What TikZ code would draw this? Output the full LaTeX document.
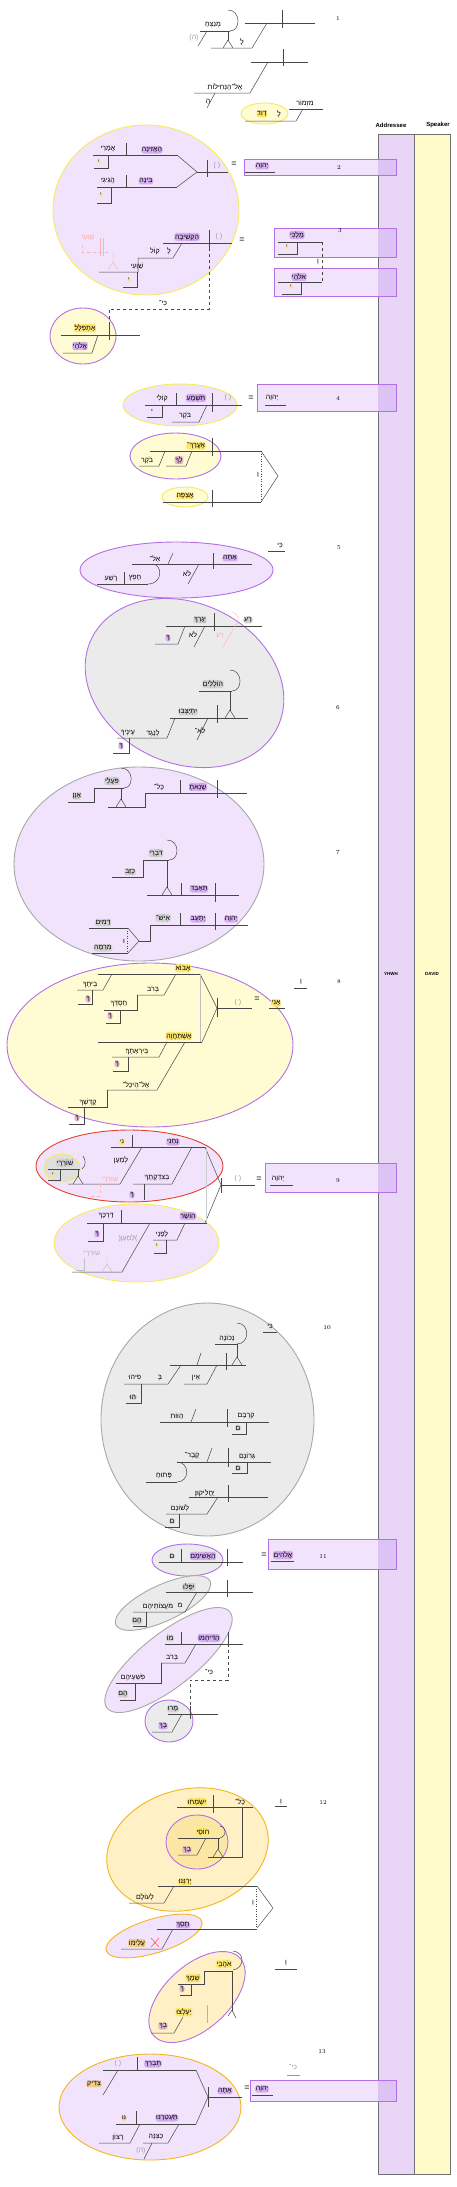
\documentclass[tikz,border=0pt]{standalone}
\usepackage{fontspec}
\newfontfamily\heb[Script=Hebrew]{Liberation Sans}
\newfontfamily\lab{Liberation Sans}
\TeXXeTstate=1
\definecolor{pF}{HTML}{F1E3FC}
\definecolor{pB}{HTML}{B36FE6}
\definecolor{yB}{HTML}{F7EB5C}
\definecolor{yF}{HTML}{FFFBD2}
\definecolor{oB}{HTML}{F5B51A}
\definecolor{oF}{HTML}{FFF0C6}
\definecolor{gF}{HTML}{EBEBEB}
\definecolor{gB}{HTML}{A8A8A8}
\definecolor{rB}{HTML}{E8402A}
\definecolor{colA}{HTML}{E9D6F6}
\definecolor{colS}{HTML}{FFFBC9}
\definecolor{colB}{HTML}{707070}
\definecolor{hlP}{HTML}{D6AEF2}
\definecolor{hlY}{HTML}{FFE66E}
\definecolor{hlG}{HTML}{D2D2D2}
\definecolor{hlK}{HTML}{E4B8CF}
\definecolor{hlO}{HTML}{F2CF86}
\definecolor{ovl}{HTML}{DDC3F5}
\definecolor{inY}{HTML}{FCE6A4}
\newcounter{hc}
\newcommand\W[4][]{\stepcounter{hc}\node[w,#1] (w\arabic{hc}) at (#2,#3) {\beginR #4\endR};}
\newcommand\G[4][]{\stepcounter{hc}\node[w,#1] (w\arabic{hc}) at (#2,#3) {#4};}
\newcommand\bx[4]{\fill[pF] (#1,#2) rectangle (#3,#4); \fill[ovl] (378,#2) rectangle (#3,#4); \draw[draw=pB,line width=0.9pt] (#1,#2) rectangle (#3,#4);}
\newcommand\tri[2]{\draw[L] (#1-5,#2)--(#1,#2-8)--(#1+5,#2);}
\tikzset{
 L/.style={draw=black!72, line width=0.5pt},
 w/.style={font=\heb\fontsize{7}{8}\selectfont, inner sep=0.7pt},
 hp/.style={fill=hlP, rounded corners=2.5pt},
 hy/.style={fill=hlY, rounded corners=2.5pt},
 hg/.style={fill=hlG, rounded corners=2.5pt},
 hk/.style={fill=hlK, rounded corners=2.5pt},
 ho/.style={fill=hlO, rounded corners=2.5pt},
 gr/.style={text=black!40},
 pk/.style={text=red!35},
 pkL/.style={draw=red!30, line width=0.4pt},
 num/.style={font=\fontsize{6}{7}\selectfont, inner sep=0.5pt},
 eq/.style={font=\lab\fontsize{9}{9}\selectfont, inner sep=0pt},
 ell/.style={line width=0.9pt},
 dotc/.style={circle, fill=hlY, inner sep=0pt, font=\heb\fontsize{6}{6}\selectfont},
 par/.style={font=\lab\fontsize{7}{8}\selectfont, text=black!40, inner sep=0.7pt}
}
\begin{document}
\begin{tikzpicture}[x=1pt,y=-1pt]
\useasboundingbox (0,0) rectangle (457,2187);
% ---------- columns ----------
\draw[draw=colB,fill=colA,line width=0.7pt] (378,134) rectangle (414,2174);
\draw[draw=colB,fill=colS,line width=0.7pt] (414,134) rectangle (450,2174);
\node[font=\lab\bfseries\fontsize{6}{7}\selectfont] (addr) at (391,125) {Addressee};
\node[font=\lab\bfseries\fontsize{6}{7}\selectfont] (spk) at (438,125) {Speaker};
\node[font=\lab\bfseries\fontsize{4.5}{5}\selectfont] (yhwh) at (391,974) {YHWH};
\node[font=\lab\bfseries\fontsize{4.5}{5}\selectfont] (david) at (432,974) {DAVID};
% ---------- background ellipses ----------
\draw[ell,draw=yB,fill=yF] (264.5,113.5) ellipse [x radius=23.5, y radius=10.5];
\draw[ell,draw=yB,fill=pF] (146,210) ellipse [x radius=93, y radius=85];
\draw[ell,draw=pB,fill=yF] (83,336) ellipse [x radius=33, y radius=28];
\draw[ell,draw=yB,fill=pF] (180,405) ellipse [x radius=57, y radius=21];
\draw[ell,draw=pB,fill=yF] (175.5,456) ellipse [x radius=45.5, y radius=23];
\draw[ell,draw=yB,fill=yF] (185,497) ellipse [x radius=23, y radius=10];
\draw[ell,draw=pB,fill=pF] (176.5,570) ellipse [x radius=96.5, y radius=28];
\draw[ell,draw=pB,fill=gF,rotate around={-25:(184.5,683)}] (184.5,683) ellipse [x radius=103, y radius=80];
\draw[ell,draw=gB,fill=pF] (139,864) ellipse [x radius=125, y radius=97];
\draw[ell,draw=pB,fill=yF] (150,1045) ellipse [x radius=143, y radius=82];
\draw[ell,draw=yB,fill=pF] (136.5,1243) ellipse [x radius=82.5, y radius=39];
\draw[ell,draw=rB,fill=pF] (129.5,1166) ellipse [x radius=93.5, y radius=36];
\draw[ell,draw=yB,fill=hlG!70] (62,1168) ellipse [x radius=18, y radius=14];
\draw[ell,draw=gB,fill=gF] (207.5,1419.5) ellipse [x radius=106.5, y radius=116.5];
\draw[ell,draw=pB,fill=gF] (187.5,1560) ellipse [x radius=35.5, y radius=16];
\draw[ell,draw=gB,fill=gF,rotate around={25:(163,1603)}] (163,1603) ellipse [x radius=52, y radius=18];
\draw[ell,draw=gB,fill=pF,rotate around={38:(168.5,1660)}] (168.5,1660) ellipse [x radius=78, y radius=27];
\draw[ell,draw=pB,fill=gF] (169,1721) ellipse [x radius=24, y radius=21];
\draw[ell,draw=oB,fill=oF,rotate around={15:(187.5,1849.5)}] (187.5,1849.5) ellipse [x radius=82, y radius=60];
\draw[ell,draw=pB,fill=inY] (197,1842) ellipse [x radius=31, y radius=27];
\draw[ell,draw=oB,fill=pF,rotate around={17:(154,1936)}] (154,1936) ellipse [x radius=50, y radius=17];
\draw[ell,draw=pB,fill=oF,rotate around={42:(197,1997)}] (197,1997) ellipse [x radius=58, y radius=32];
\draw[ell,draw=oB,fill=pF] (150,2107) ellipse [x radius=91, y radius=53];
% ---------- boxes ----------
\bx{244}{159}{396}{175}
\bx{274}{228}{396}{257}
\bx{274}{268}{396}{296}
\bx{257}{384}{396}{411}
\bx{265}{1163}{396}{1192}
\bx{268}{1539}{396}{1569}
\bx{250}{2080}{396}{2101}
% ---------- verse numbers ----------
\node[num] (n1) at (338,19) {1};
\node[num] (n2) at (339,168) {2};
\node[num] (n3) at (340,231) {3};
\node[num] (n4) at (338,398) {4};
\node[num] (n5) at (339,548) {5};
\node[num] (n6) at (338,708) {6};
\node[num] (n7) at (338,853) {7};
\node[num] (n8) at (339,982) {8};
\node[num] (n9) at (338,1181) {9};
\node[num] (n10) at (327,1328) {10};
\node[num] (n11) at (323,1556) {11};
\node[num] (n12) at (323,1802) {12};
\node[num] (n13) at (322,2052) {13};
% ---------- verse 1 ----------
\draw[L] (245,23)--(315,23); \draw[L] (282,10)--(282,28);
\draw[L] (267,23)--(252,48)--(211,48);
\G{242}{42}{לַ}
\draw[L] (228,31)--(228,41); \tri{228}{48}
\draw[L] (200,31)--(230,31);
\draw[L] (228,10) .. controls (241,10) and (241,31) .. (230,31);
\W{213}{25}{מְנַצֵּחַ}
\draw[L] (207,31)--(198,46); \G[gr]{194}{38}{(ה)}
\draw[L] (251,62)--(308,62); \draw[L] (283,49)--(283,66);
\draw[L] (268,62)--(250,93)--(194,93);
\W{225}{87}{אֶל־הַנְּחִילוֹת}
\draw[L] (215,93)--(207,108); \G{208}{102}{הַ}
\draw[L] (289,109)--(323,109); \W{305}{103}{מִזְמוֹר}
\draw[L] (303,109)--(296,121)--(245,121);
\G{279}{114}{לְ} \W[hy]{262}{114}{דָוִד׃}
% ---------- verse 2 ----------
\draw[L] (93,155)--(177,155); \draw[L] (126,143)--(126,155);
\W{108}{149}{אֲמָרַי} \W[hp]{152}{150}{הַאֲזִינָה}
\draw[L] (108,155)--(108,168)--(94,168); \G[dotc]{99}{162}{י}
\draw[L] (97,187)--(177,187); \draw[L] (126,175)--(126,187);
\W{108}{181}{הֲגִיגִי׃} \W[hp]{146}{181}{בִּינָה}
\draw[L] (111,187)--(111,203)--(97,203); \G[dotc]{101}{195}{י}
\draw[L] (177,155)--(197,172)--(177,187); \draw[L] (197,172)--(228,172); \draw[L] (207,160)--(207,177);
\node[par] (p2) at (217,166) {( )};
\node[eq] (eq2) at (234,164) {=};
\W[hp]{262}{166}{יְהוָה} \draw[L] (245,172)--(275,172);
% ---------- verse 3 ----------
\draw[L] (163,243)--(232,243); \draw[L] (209,230)--(209,248);
\draw[L,dashed] (209,248)--(209,309)--(109,309)--(109,322);
\W[hp]{187}{237}{הַקְשִׁיבָה} \node[par] (p3) at (219,237) {( )};
\node[eq] (eq3) at (242,240) {=};
\draw[L] (182,243)--(173,258)--(138,258)--(138,272)--(99,272);
\G{169}{251}{לְ} \W{155}{251}{קוֹל} \W{137}{266}{שַׁוְעִי}
\draw[L] (137,272)--(137,287)--(123,287); \G[dotc]{129}{280}{י}
\W[pk]{88}{237}{שַׁוְעִי}
\draw[pkL] (100,238)--(100,256) (103,238)--(103,256);
\draw[pkL,dashed] (82,245)--(82,252)--(108,252);
\draw[pkL] (113,252)--(113,262) (108,270)--(113,262)--(118,270);
\W{163}{304}{כִּי־}
\draw[L] (61,335)--(140,335); \draw[L] (109,322)--(109,340);
\W[hy]{85}{328}{אֶתְפַּלָּל׃}
\draw[L] (98,335)--(92,353)--(63,353); \W[hp]{80}{346}{אֱלֹהָי}
\W[hp]{297}{235}{מַלְכִּי}
\draw[L] (278,242)--(322,242); \draw[L] (297,242)--(297,254)--(278,254); \G[dotc]{287}{247}{י}
\draw[L,dashed] (322,242)--(322,282); \G{318}{262}{וֵ}
\W[hp]{299}{277}{אלֹהָי}
\draw[L] (278,282)--(322,282); \draw[L] (301,282)--(301,294)--(282,294); \G[dotc]{291}{287}{י}
% ---------- verse 4 ----------
\draw[L] (145,405)--(242,405); \draw[L] (176,393)--(176,405); \draw[L] (212,393)--(212,412);
\W{162}{398}{קוֹלִי} \W[hp]{196}{398}{תִּשְׁמַע} \node[par] (p4) at (228,398) {( )};
\draw[L] (162,405)--(162,417)--(147,417); \G{152}{411}{י}
\draw[L] (207,405)--(199,422)--(172,422); \W{185}{415}{בֹּקֶר}
\node[eq] (eq4) at (251,398) {=};
\W{272}{398}{יְהוָה} \draw[L] (265,405)--(286,405);
\draw[L] (150,451)--(261,451); \draw[L] (212,438)--(212,456);
\W[hy]{196}{446}{אֶעֱרָךְ־}
\draw[L] (192,451)--(186,466)--(166,466); \W[hk]{179}{460}{לְךָ}
\draw[L] (165,451)--(159,466)--(139,466); \W{147}{460}{בֹקֶר}
\W[hy]{185}{496}{אֲצַפֶּה׃}
\draw[L] (163,502)--(261,502); \draw[L] (212,490)--(212,507);
\draw[L] (261,451)--(278,476)--(261,502); \draw[L,dotted] (261,451)--(261,502);
\G{258}{475}{וַ}
% ---------- verse 5 ----------
\W{280}{546}{כִּי} \draw[L] (268,551)--(285,551);
\draw[L] (132,564)--(252,564); \draw[L] (213,553)--(213,569);
\W[hp]{230}{558}{אַתָּה}
\draw[L] (173,553)--(168,564); \W{155}{559}{אֵל־}
\draw[L] (199,564)--(188,584); \W{187}{574}{לֹא}
\draw[L] (152,564) .. controls (163,564) and (163,584) .. (148,584);
\draw[L] (97,584)--(148,584); \draw[L] (124,572)--(124,584);
\W{135}{578}{חָפֵץ} \W{111}{578}{רֶשַׁע}
% ---------- verse 6 ----------
\draw[L] (166,626)--(262,626); \draw[L] (214,613)--(214,631);
\W[hg]{200}{620}{יְגֻרְךָ} \W[hg]{248}{620}{רָע}
\W[pk]{220}{636}{רָע} \draw[pkL] (235,626)--(223,647);
\draw[pkL] (232,612) .. controls (240,614) and (240,624) .. (234,626);
\draw[L] (205,626)--(194,647); \W{193}{635}{לֹא}
\draw[L] (185,626)--(178,644)--(155,644); \G[hp]{168}{638}{ךָ}
\draw[L] (230,670) .. controls (243,670) and (243,691) .. (232,691);
\draw[L] (199,691)--(232,691); \W[hg]{213}{684}{הוֹלְלִים}
\draw[L] (230,691)--(230,711); \tri{230}{718}
\draw[L] (170,718)--(248,718); \draw[L] (217,705)--(217,723);
\W[hg]{188}{712}{יִתְיַצְּבוּ}
\draw[L] (175,718)--(167,738)--(117,738); \W{153}{733}{לְנֶגֶד} \W{128}{733}{עֵינֶיךָ}
\draw[L] (129,738)--(129,753)--(113,753); \G[hp]{121}{746}{ךָ}
\draw[L] (208,718)--(197,740); \W{200}{731}{לֹא־}
% ---------- verse 7 ----------
\draw[L] (145,793)--(247,793); \draw[L] (180,780)--(180,793); \draw[L] (217,780)--(217,798);
\W[hp]{198}{787}{שָׂנֵאתָ} \W{159}{787}{כָּל־}
\draw[L] (145,793)--(145,807)--(108,807);
\draw[L] (121,788)--(121,800); \tri{121}{807}
\draw[L] (121,768) .. controls (134,768) and (134,788) .. (124,788);
\draw[L] (94,788)--(124,788); \W[hg]{112}{781}{פֹּעֲלֵי}
\draw[L] (94,788)--(94,802)--(68,802); \W[hg]{77}{796}{אָוֶן׃}
\draw[L] (167,840) .. controls (180,840) and (180,860) .. (169,860);
\draw[L] (143,860)--(169,860); \W[hg]{156}{853}{דֹּבְרֵי}
\draw[L] (143,860)--(143,877)--(112,877); \W[hg]{130}{872}{כָזָב}
\draw[L] (167,860)--(167,888); \tri{167}{895}
\draw[L] (147,895)--(239,895); \draw[L] (181,883)--(181,895); \draw[L] (215,883)--(215,902);
\W[hp]{199}{889}{תְּאַבֵּד}
\draw[L] (150,925)--(248,925); \draw[L] (180,913)--(180,925); \draw[L] (215,913)--(215,930);
\W[hp]{231}{919}{יְהוָה׃} \W[hp]{198}{919}{יְתָעֵב} \W[hg]{163}{918}{אִישׁ־}
\draw[L] (150,925)--(150,941)--(139,941);
\draw[L] (128,928)--(139,941)--(128,953);
\draw[L] (89,928)--(128,928); \draw[L] (92,953)--(128,953); \draw[L,dotted] (127,928)--(127,953);
\G{124}{941}{וּ} \W[hg]{103}{923}{דָּמִים} \W[hg]{103}{948}{מִרְמָה}
% ---------- verse 8 ----------
\G{301}{982}{וַ} \draw[L] (294,988)--(307,988);
\node[eq] (eq8) at (257,999) {=};
\W[hy]{276}{1003}{אֲנִי} \draw[L] (269,1008)--(285,1008);
\node[par] (p8) at (238,1003) {( )};
\draw[L] (217,1008)--(252,1008); \draw[L] (217,998)--(217,1017);
\draw[L] (200,974)--(217,1008)--(202,1042); \draw[draw=black!25,line width=0.8pt] (200,974)--(200,1042);
\draw[L] (98,974)--(200,974); \W[hy]{183}{968}{אָבוֹא}
\draw[L] (112,974)--(103,990)--(77,990); \W{90}{985}{בֵיתֶךָ}
\draw[L] (92,990)--(92,1004)--(78,1004); \G[hk]{88}{999}{ךָ}
\draw[L] (176,974)--(164,995)--(137,995); \W{153}{989}{בְּרֹב}
\draw[L] (137,995)--(137,1010)--(104,1010); \W{119}{1004}{חַסְדְּךָ}
\draw[L] (120,1010)--(120,1023)--(106,1023); \G[hk]{110}{1016}{ךָ}
\draw[L] (98,1042)--(202,1042); \W[hy]{179}{1036}{אֶשְׁתַּחֲוֶה}
\draw[L] (167,1042)--(159,1057)--(112,1057); \W{137}{1052}{בְּיִרְאָתֶךָ׃}
\draw[L] (128,1057)--(128,1071)--(113,1071); \G[hk]{117}{1064}{ךָ}
\draw[L] (185,1042)--(157,1090)--(107,1090); \W{136}{1085}{אֶל־הֵיכַל־}
\draw[L] (107,1090)--(107,1107)--(68,1107); \W{88}{1102}{קָדְשְׁךָ}
\draw[L] (84,1107)--(84,1124)--(69,1124); \G[hk]{77}{1118}{ךָ}
% ---------- verse 9 ----------
\draw[L] (111,1147)--(205,1147); \draw[L] (132,1135)--(132,1147);
\W[hp]{173}{1142}{נְחֵנִי} \W[dotc]{122}{1142}{נִי}
\draw[L] (205,1147)--(221,1185)--(205,1223); \draw[draw=black!20,line width=0.9pt] (206,1147)--(206,1223);
\draw[L] (221,1185)--(255,1185); \draw[L] (221,1178)--(221,1193);
\node[par] (p9) at (238,1179) {( )};
\node[eq] (eq9) at (259,1179) {=};
\W{278}{1179}{יְהוָה} \draw[L] (270,1185)--(293,1185);
\draw[L] (192,1147)--(172,1184)--(133,1184); \W{157}{1178}{בְצִדְקָתֶךָ}
\draw[L] (144,1184)--(144,1200); \G[hp]{132}{1195}{ךָ}
\draw[L] (142,1147)--(120,1184)--(68,1184); \W{121}{1160}{לְמַעַן}
\W[hg]{65}{1163}{שׁוֹרְרָי}
\draw[L] (48,1169)--(80,1169); \draw[L] (60,1169)--(60,1180)--(48,1180); \G[dotc]{53}{1175}{י}
\draw[L] (78,1169)--(78,1177); \tri{78}{1184}
\draw[L] (83,1156) .. controls (86,1160) and (86,1166) .. (82,1169);
\W[pk]{110}{1179}{שׁוֹרְרָי}
\draw[pkL,dashed] (100,1184)--(100,1196)--(90,1196);
% lower ellipse
\draw[L] (87,1223)--(207,1223); \draw[L] (121,1210)--(121,1223);
\W[hp]{188}{1216}{הוֹשַׁר} \W{106}{1216}{דַּרְכֶּךָ}
\draw[L] (103,1223)--(103,1241)--(88,1241); \G[hp]{97}{1234}{ךָ}
\draw[L] (185,1223)--(177,1240)--(153,1240); \W{162}{1234}{לְפָנַי}
\draw[L] (166,1240)--(166,1253)--(154,1253); \G[dotc]{157}{1246}{י}
\draw[L] (150,1223)--(122,1272)--(72,1272);
\G[gr]{128}{1238}{(\beginR לְמַעַן\endR)}
\W[text=black!30]{92}{1253}{שׁוֹרְרָי}
\draw[draw=black!25] (107,1258)--(107,1265) (102,1272)--(107,1264)--(112,1272);
\draw[draw=black!25] (84,1258)--(84,1270)--(76,1270);
% ---------- verse 10 ----------
\W{270}{1327}{כִּי} \draw[L] (263,1332)--(277,1332);
\draw[L] (237,1323) .. controls (250,1323) and (250,1344) .. (237,1344);
\draw[L] (215,1344)--(237,1344); \W{227}{1338}{נְכוֹנָה}
\draw[L] (237,1344)--(237,1358); \tri{237}{1365}
\draw[L] (170,1365)--(246,1365); \draw[L] (226,1353)--(226,1370); \draw[L] (201,1353)--(197,1365);
\draw[L] (217,1365)--(207,1384)--(184,1384); \W{196}{1378}{אֵין}
\draw[L] (181,1365)--(168,1384)--(124,1384); \G{160}{1378}{בְּ} \W{135}{1378}{פִיהוּ}
\draw[L] (141,1384)--(141,1403)--(126,1403); \W[hg]{133}{1397}{הוּ}
\draw[L] (160,1422)--(269,1422); \draw[L] (227,1409)--(227,1427); \draw[L] (196,1409)--(191,1422);
\W{246}{1416}{קִרְבָּם} \W{177}{1416}{הַוּוֹת}
\draw[L] (246,1422)--(246,1434)--(232,1434); \G[hg]{238}{1428}{ם}
\draw[L] (177,1462)--(271,1462); \draw[L] (228,1448)--(228,1467); \draw[L] (212,1448)--(207,1462);
\W{247}{1456}{גְּרוֹנָם} \W{192}{1456}{קֶבֶר־}
\draw[L] (247,1462)--(247,1473)--(232,1473); \G[hg]{238}{1468}{ם}
\draw[L] (177,1462) .. controls (190,1462) and (190,1482) .. (177,1482);
\draw[L] (146,1482)--(177,1482); \W{164}{1476}{פָּתוּחַ}
\draw[L] (189,1497)--(268,1497); \draw[L] (228,1485)--(228,1502);
\W{205}{1493}{יַחֲלִיקוּן׃}
\draw[L] (218,1497)--(207,1514)--(166,1514); \W{180}{1508}{לְשׁוֹנָם}
\draw[L] (179,1514)--(179,1527)--(165,1527); \G[hg]{172}{1521}{ם}
% ---------- verse 11 ----------
\node[eq] (eq11) at (264,1555) {=};
\W[hp]{283}{1555}{אֱלֹהִים} \draw[L] (271,1561)--(294,1561);
\draw[L] (159,1562)--(243,1562); \draw[L] (181,1549)--(181,1562); \draw[L] (227,1549)--(227,1566);
\W[hp]{203}{1556}{הַאֲשִׁימֵם} \G[hg]{172}{1556}{ם}
\draw[L] (166,1592)--(253,1592); \draw[L] (227,1580)--(227,1597);
\W[hg]{189}{1587}{יִפְּלוּ}
\draw[L] (197,1592)--(185,1612)--(133,1612); \G{180}{1606}{מִ} \W{158}{1606}{מֹּעֲצוֹתֵיהֶם}
\draw[L] (146,1612)--(146,1626)--(133,1626); \W[hg]{137}{1621}{הֶם}
\draw[L] (165,1644)--(243,1644); \draw[L] (181,1632)--(181,1644); \draw[L] (228,1632)--(228,1644);
\W[hp]{209}{1638}{הַדִּיחֵמוֹ} \W[hg]{170}{1638}{מוֹ}
\draw[L,dashed] (228,1644)--(228,1680)--(190,1680)--(190,1706);
\W{209}{1673}{כִּי־}
\draw[L] (196,1644)--(185,1663)--(161,1663); \W{172}{1657}{בְּרֹב}
\draw[L] (161,1663)--(161,1683)--(116,1683); \W{133}{1677}{פִּשְׁעֵיהֶם}
\draw[L] (135,1683)--(135,1700)--(120,1700); \W[hg]{123}{1694}{הֶם}
\draw[L] (168,1714)--(218,1714); \draw[L] (190,1706)--(190,1719);
\W[hg]{173}{1709}{מָרוּ}
\draw[L] (182,1714)--(172,1732)--(152,1732); \W[hp]{163}{1726}{בָךְ}
% ---------- verse 12 ----------
\G{281}{1802}{וְ} \draw[L] (275,1806)--(287,1806);
\draw[L] (177,1807)--(253,1807); \draw[L] (213,1795)--(213,1813);
\W[hy]{197}{1802}{יִשְׂמְחוּ} \W{240}{1802}{כָל־}
\draw[L] (242,1807)--(242,1857)--(208,1857);
\tri{218}{1857} \draw[L] (218,1849)--(218,1838);
\draw[L] (220,1826) .. controls (227,1827) and (227,1836) .. (220,1838);
\draw[L] (178,1838)--(220,1838); \W[hy]{203}{1832}{חוֹסֵי}
\draw[L] (206,1838)--(197,1855)--(178,1855); \W[hk]{187}{1850}{בָךְ}
\draw[L] (158,1886)--(257,1886); \W[hy]{185}{1882}{יְרַנֵּנוּ}
\draw[L] (174,1886)--(164,1903)--(129,1903); \W{145}{1897}{לְעוֹלָם}
\draw[L] (257,1886)--(273,1908)--(257,1928); \draw[L,dotted] (256,1886)--(256,1928);
\G{253}{1903}{וְ}
\draw[L] (157,1929)--(257,1929); \W[hp]{183}{1925}{תָסֵךְ}
\draw[L] (173,1929)--(162,1949)--(121,1949); \W[ho]{137}{1943}{עָלֵימוֹ}
\draw[draw=red!65,line width=0.6pt] (151,1938)--(159,1947) (151,1947)--(159,1938);
\G{286}{1963}{וְ} \draw[L] (275,1969)--(297,1969);
\draw[L] (233,1951) .. controls (245,1952) and (245,1968) .. (233,1970);
\draw[L] (204,1971)--(233,1971); \W[hy]{224}{1964}{אֹהֲבֵי}
\draw[L] (204,1971)--(204,1984)--(178,1984); \W[hy]{193}{1978}{שְׁמֶךָ}
\draw[L] (191,1984)--(191,1995)--(180,1995); \G[hk]{182}{1989}{ךָ}
\draw[L] (232,1971)--(232,2011); \draw[L] (228,2016)--(232,2010)--(236,2018);
\draw[draw=black!30] (207,2005)--(207,2023); \W[hy]{184}{2012}{יַעְלְצוּ}
\draw[L] (183,2017)--(174,2033)--(151,2033); \W[hk]{163}{2026}{בְךָ}
% ---------- verse 13 ----------
\W[gr]{293}{2068}{כִּי־} \draw[draw=black!40] (287,2075)--(300,2075);
\node[eq] (eq13) at (247,2088) {=};
\W[hp]{262}{2089}{יְהוָה} \draw[L] (252,2095)--(273,2095);
\W[hp]{225}{2091}{אַתָּה}
\draw[L] (208,2097)--(242,2097); \draw[L] (208,2087)--(208,2107);
\draw[L] (196,2070)--(208,2097)--(196,2124);
\draw[L] (103,2070)--(196,2070); \draw[L] (137,2057)--(137,2070);
\W[hp]{153}{2064}{תְּבָרֵךְ} \node[par] (p13) at (118,2064) {( )};
\draw[L] (118,2070)--(103,2095); \W[ho]{94}{2084}{צַדִּיק}
\draw[L] (116,2124)--(196,2124); \draw[L] (136,2111)--(136,2124);
\W[hp]{167}{2118}{תַּעְטְרֶנּוּ} \W[dotc,fill=hlO]{124}{2118}{נּוּ}
\draw[L] (179,2124)--(168,2143)--(143,2143); \W{156}{2137}{כַּצִּנָּה}
\draw[L] (152,2143)--(144,2159); \G[gr]{141}{2151}{(ה)}
\draw[L] (140,2124)--(130,2143)--(99,2143); \W{118}{2137}{רָצוֹן}
\end{tikzpicture}
\end{document}
